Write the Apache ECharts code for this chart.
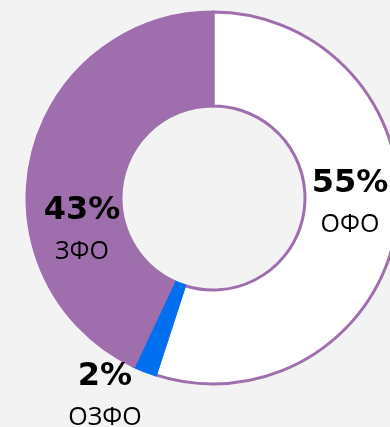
<!DOCTYPE html>
<html>
<head>
<meta charset="utf-8">
<script src="https://cdn.jsdelivr.net/npm/echarts@6/dist/echarts.min.js"></script>
<style>
html,body{margin:0;padding:0;background:#f3f3f3;}
#c{width:390px;height:427px;}
</style>
</head>
<body>
<div id="c"></div>
<script>
var categories = ['ОФО', 'ОЗФО', 'ЗФО'];
var values = [55, 2, 43];

var colors = ['#ffffff', '#0070f0', '#9f6ead'];
var borders = ['#9f6ead', '#0070f0', '#9f6ead'];
var labelPos = [[350, 204], [105, 397], [82, 231]];

var chart = echarts.init(document.getElementById('c'), null, {renderer: 'canvas'});
chart.setOption({
  backgroundColor: '#f3f3f3',
  animation: false,
  series: [{
    type: 'pie',
    center: [213, 198],
    radius: [92, 186],
    startAngle: 90,
    clockwise: true,
    avoidLabelOverlap: false,
    silent: true,
    data: categories.map(function (c, i) {
      return {
        name: c, value: values[i],
        itemStyle: {color: colors[i], borderColor: borders[i], borderWidth: 3}
      };
    }),
    label: {
      show: true,
      position: 'inside',
      formatter: function (p) { return '{p|' + p.value + '%}\n{n|' + p.name + '}'; },
      rich: {
        p: {fontFamily: 'DejaVu Sans', fontWeight: 'bold', fontSize: 32, color: '#000', lineHeight: 42, align: 'center'},
        n: {fontFamily: 'Open Sans', fontWeight: 'normal', fontSize: 25, color: '#000', lineHeight: 40, align: 'center'}
      }
    },
    labelLine: {show: false},
    labelLayout: function (params) {
      var pos = labelPos[params.dataIndex];
      return {x: pos[0], y: pos[1], align: 'center', verticalAlign: 'middle'};
    }
  }]
});
</script>
</body>
</html>
